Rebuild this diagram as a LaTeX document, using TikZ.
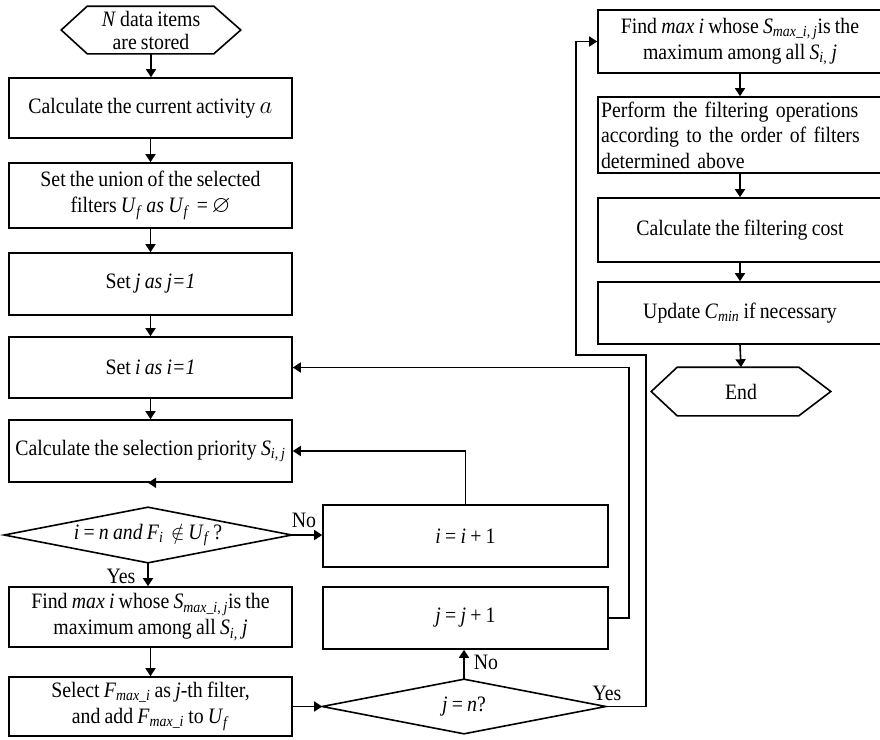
\documentclass[tikz,border=0pt]{standalone}
\usepackage{amssymb}
\usepackage{fontspec}
\setmainfont[FakeStretch=0.9,WordSpace=0.85]{Liberation Serif}
\usetikzlibrary{arrows.meta,calc}
\newcommand\myfs{\fontsize{22}{26}\selectfont}
\begin{document}
\begin{tikzpicture}[x=1pt,y=-1pt,line width=1.6pt,
  box/.style={draw,rectangle,minimum width=283pt,minimum height=#1,inner sep=2pt,align=center,font=\myfs},
  rbox/.style={draw,rectangle,minimum width=284pt,minimum height=#1,inner sep=2pt,align=center,font=\myfs},
  flat/.style={rectangle,inner sep=0pt,align=center,font=\myfs},
  lbl/.style={inner sep=0pt,font=\myfs},
  arr/.style={-{Triangle[length=8pt,width=10pt]}}]
\clip (0,0) rectangle (880,739);
% left column
\node[flat,minimum width=178pt,minimum height=46pt,font=\fontsize{22}{23}\selectfont] (start) at (151,30) {\textit{N} data items\\are stored};
\draw (start.west) -- ($(start.north west)+(26,0)$) -- ($(start.north east)+(-27,0)$) -- (start.east) -- ($(start.south east)+(-27,0)$) -- ($(start.south west)+(26,0)$) -- cycle;
\node[box=60pt] (b1) at (150.5,108) {Calculate the current activity \fontsize{26}{26}\selectfont$a$};
\node[box=65pt] (b2) at (150.5,195.5) {Set the union of the selected\\filters \textit{U}\textsubscript{\textit{f}} \textit{as U}\textsubscript{\textit{f}}\,\,=\,{\fontsize{24}{24}\selectfont$\varnothing$}};
\node[box=62pt] (b3) at (150.5,284) {Set \textit{j as j=1}};
\node[box=61pt] (b4) at (150.5,367.5) {Set \textit{i as i=1}};
\node[box=62pt] (b5) at (150.5,451) {Calculate the selection priority \textit{S}\textsubscript{\textit{i, j}}};
\node[flat,minimum width=286pt,minimum height=54pt] (d1) at (148,535) {\textit{i} = \textit{n and F}\textsubscript{\textit{i}}\,\,$\notin$\,\textit{U}\textsubscript{\textit{f}}\,?};
\draw (d1.west) -- (d1.north) -- (d1.east) -- (d1.south) -- cycle;
\node[box=60pt] (b6) at (150.5,617) {Find \textit{max i} whose \textit{S}\textsubscript{\textit{max\_i, j}}is the\\maximum among all \textit{S}\textsubscript{\textit{i,}} \textit{j}};
\node[box=59pt] (b7) at (150.5,706.5) {Select \textit{F}\textsubscript{\textit{max\_i}} as \textit{j}-th filter,\\and add \textit{F}\textsubscript{\textit{max\_i}} to \textit{U}\textsubscript{\textit{f}}};
% middle column
\node[draw,rectangle,minimum width=285pt,minimum height=62pt,font=\myfs] (ii) at (465.5,536) {\textit{i} = \textit{i} + 1};
\node[draw,rectangle,minimum width=285pt,minimum height=62pt,font=\myfs] (jj) at (465.5,618) {\textit{j} = \textit{j} + 1};
\node[flat,minimum width=282pt,minimum height=53pt] (d2) at (464,706.5) {\textit{j} = \textit{n}?};
\draw (d2.west) -- (d2.north) -- (d2.east) -- (d2.south) -- cycle;
% right column
\node[rbox=63pt] (r1) at (740,41.5) {Find \textit{max i} whose \textit{S}\textsubscript{\textit{max\_i, j}}is the\\maximum among all \textit{S}\textsubscript{\textit{i,}} \textit{j}};
\node[rbox=76pt,align=left,text width=278pt,inner sep=3pt,font=\fontsize{22}{25.5}\selectfont] (r2) at (740,135) {Perform the filtering operations\\according to the order of filters\\determined above};
\node[rbox=64pt] (r3) at (740,230) {Calculate the filtering cost};
\node[rbox=62pt] (r4) at (740,313) {Update \textit{C}\textsubscript{\textit{min}} if necessary};
\node[flat,minimum width=178pt,minimum height=47pt] (end) at (741,391.5) {End};
\draw (end.west) -- ($(end.north west)+(26,0)$) -- ($(end.north east)+(-32,0)$) -- (end.east) -- ($(end.south east)+(-32,0)$) -- ($(end.south west)+(26,0)$) -- cycle;
% labels
\node[lbl] (no1) at (304,520) {No};
\node[lbl] (yes1) at (121,576) {Yes};
\node[lbl] (no2) at (486,662) {No};
\node[lbl] (yes2) at (607,693) {Yes};
% connectors
\draw[arr] (start.south) -- (start.south |- b1.north);
\draw[arr] (b1) -- (b2);
\draw[arr] (b2) -- (b3);
\draw[arr] (b3) -- (b4);
\draw[arr] (b4) -- (b5);
\draw[arr] (b5.south) -- (b5.south -| d1.north);
\draw[arr] (d1.south) -- (d1.south |- b6.north);
\draw[arr] (b6) -- (b7);
\draw[arr] (d1.east) -- (d1.east -| ii.west);
\draw[arr] (ii.north) |- (b5.east);
\draw[arr] (b7.east) -- (d2.west);
\draw[arr] (d2.north) -- (d2.north |- jj.south);
\coordinate (jc) at (629,618);
\draw[arr] (jj.east) -- (jc) |- (b4.east);
\coordinate (y1) at (646,355);
\coordinate (y2) at (576,355);
\draw[arr] (d2.east) -| (y1) -- (y2) |- (r1.west);
\draw[arr] (r1) -- (r2);
\draw[arr] (r2) -- (r3);
\draw[arr] (r3) -- (r4);
\draw[arr] (r4.south) -- (end.north);
\end{tikzpicture}
\end{document}
